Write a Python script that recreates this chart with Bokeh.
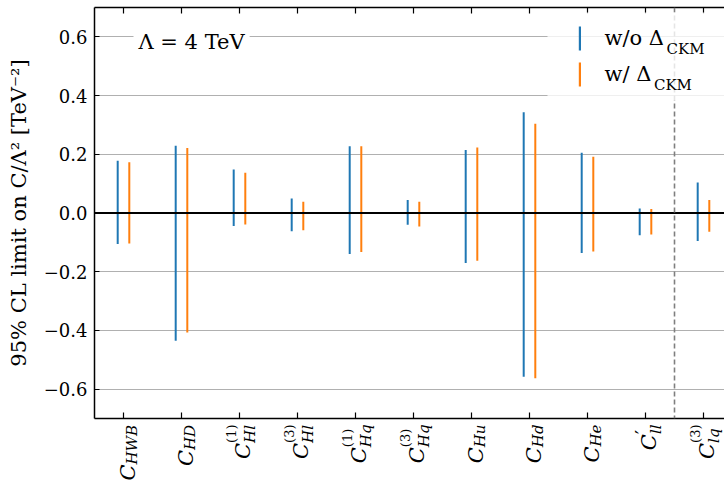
import math
import numpy as np
from bokeh.plotting import figure
from bokeh.layouts import column
from bokeh.core.properties import value
from bokeh.models import (Range1d, LinearAxis, FixedTicker, Span, Label, Legend,
                          LegendItem, CustomJSTickFormatter, ColumnDataSource,
                          BoxAnnotation)
from bokeh.embed import file_html
from bokeh.resources import INLINE

# ---------------- data ----------------
coef_base = ["C"] * 11
coef_sub = ["HWB", "HD", "Hl", "Hl", "Hq", "Hq", "Hu", "Hd", "He", "ll", "lq"]
coef_sup = ["", "", "(1)", "(3)", "(1)", "(3)", "", "", "", "\u2032", "(3)"]

wo_ckm_hi = [0.178, 0.229, 0.148, 0.049, 0.227, 0.044, 0.215, 0.343, 0.205, 0.015, 0.104]
wo_ckm_lo = [-0.106, -0.435, -0.044, -0.062, -0.140, -0.040, -0.170, -0.558, -0.136, -0.076, -0.095]
w_ckm_hi = [0.173, 0.221, 0.137, 0.038, 0.227, 0.038, 0.223, 0.304, 0.192, 0.014, 0.044]
w_ckm_lo = [-0.104, -0.407, -0.039, -0.059, -0.133, -0.046, -0.163, -0.563, -0.131, -0.073, -0.064]

series_labels = ["w/o \u0394", "w/ \u0394"]
series_sub = "CKM"
scale_text = "\u039b = 4 TeV"
y_ticks = [-0.6, -0.4, -0.2, 0.0, 0.2, 0.4, 0.6]
y_label = "95% CL limit on C/\u039b\u00b2 [TeV\u207b\u00b2]"
n_first_group = 10   # separator drawn after the first 10 operators

# ---------------- layout ----------------
W = 724
HM = 420            # main figure height
HL = 481 - HM       # label strip height
FL, FT, FB = 94, 7, 2
frame_w = W - FL
frame_h = HM - FT - FB
X0 = -0.5
PX_X = 58.0
X1 = X0 + frame_w / PX_X
Y0, Y1 = -0.7, 0.7
PY = frame_h / (Y1 - Y0)

def data_x(px):
    return X0 + (px - FL) / PX_X

def data_y(py):
    return Y1 - (py - FT) / PY

FONT = "DejaVu Serif"
BLUE = "#1f77b4"
ORANGE = "#ff7f0e"

x_range = Range1d(X0, X1)
p = figure(width=W, height=HM, output_backend="svg", toolbar_location=None,
           x_range=x_range, y_range=Range1d(Y0, Y1),
           min_border_left=FL, min_border_right=0, min_border_top=FT,
           min_border_bottom=FB)
p.outline_line_color = None
p.xgrid.visible = False
p.ygrid.grid_line_color = "#b0b0b0"
p.ygrid.grid_line_width = 1
p.ygrid.ticker = FixedTicker(ticks=y_ticks)

# y axis
ya = p.yaxis[0]
ya.ticker = FixedTicker(ticks=y_ticks)
ya.formatter = CustomJSTickFormatter(code="return tick.toFixed(1).replace('-', '\\u2212');")
ya.major_tick_in = 5
ya.major_tick_out = 0
ya.minor_tick_line_color = None
ya.axis_line_width = 1.5
ya.major_tick_line_width = 1.2
ya.major_label_text_font = FONT
ya.major_label_text_font_size = "18px"
ya.major_label_text_color = "black"
ya.major_label_standoff = 7
ya.axis_label = y_label
ya.axis_label_text_font = FONT
ya.axis_label_text_font_size = "21px"
ya.axis_label_text_font_style = "normal"
ya.axis_label_text_color = "black"
ya.axis_label_standoff = 10

n = len(coef_sub)

def tick_only(ax):
    ax.ticker = FixedTicker(ticks=list(range(n)))
    ax.major_label_text_color = None
    ax.major_label_text_font_size = "1px"
    ax.major_label_standoff = 0
    ax.major_tick_in = 6
    ax.major_tick_out = 0
    ax.minor_tick_line_color = None
    ax.axis_line_width = 1.5
    ax.major_tick_line_width = 1.2

tick_only(p.xaxis[0])
ta = LinearAxis()
tick_only(ta)
p.add_layout(ta, "above")

# error bars
xi = np.arange(n)
src = ColumnDataSource(dict(x_wo=xi - 0.1, x_w=xi + 0.1,
                            wo_lo=wo_ckm_lo, wo_hi=wo_ckm_hi,
                            w_lo=w_ckm_lo, w_hi=w_ckm_hi))
bar_w = 2.0 / PX_X
r_wo = p.vbar(x="x_wo", bottom="wo_lo", top="wo_hi", width=bar_w, source=src,
              fill_color=BLUE, line_color=None)
r_w = p.vbar(x="x_w", bottom="w_lo", top="w_hi", width=bar_w, source=src,
             fill_color=ORANGE, line_color=None)

# zero line and group separator
p.add_layout(Span(location=0, dimension="width", line_color="black", line_width=2))
p.add_layout(Span(location=n_first_group - 0.5, dimension="height", line_color="#7f7f7f",
                  line_width=1.6, line_dash="5 3"))

# Lambda text
p.add_layout(Label(x=data_x(133), y=data_y(41), text=scale_text, text_font=FONT,
                   text_font_size="21px", text_color="black", text_align="left",
                   text_baseline="alphabetic", background_fill_color="white",
                   padding=5))

# legend frame (translucent white, no edge)
p.add_layout(BoxAnnotation(left=data_x(547), right=X1 + 1, top=data_y(12),
                           bottom=data_y(100), fill_color="white", fill_alpha=0.8,
                           line_color=None))

# legend
leg_left, leg_top = 567.5, 13
pad, gh, sp = 10, 30, 6
leg_h = 2 * pad + 2 * gh + sp
LEG_SHIFT = 10
legend = Legend(items=[LegendItem(label=series_labels[0], renderers=[r_wo]),
                       LegendItem(label=series_labels[1], renderers=[r_w])],
                location=(leg_left - FL + LEG_SHIFT, (FT + frame_h) - (leg_top + leg_h) + LEG_SHIFT),
                glyph_width=3, glyph_height=gh, label_height=gh,
                spacing=sp, padding=pad, label_standoff=24,
                label_text_font=FONT, label_text_font_size="21px",
                label_text_color="black",
                border_line_color=None, background_fill_alpha=0)
p.add_layout(legend)

# subscripts of the legend labels
EM = {"w": 0.856, "/": 0.337, "o": 0.602, " ": 0.318, "\u0394": 0.770}
text_start = leg_left + pad + 3 + 24
row_c = [leg_top + pad + gh / 2, leg_top + pad + gh + sp + gh / 2]
for lab, cy in zip(series_labels, row_c):
    wpx = sum(EM.get(c, 0.6) for c in lab) * 21
    p.add_layout(Label(x=data_x(text_start + wpx + 1), y=data_y(cy + 10), text=series_sub,
                       text_font=FONT, text_font_size="15px", text_color="black",
                       text_align="left", text_baseline="alphabetic", level="overlay"))

# ---------------- category labels strip ----------------
q = figure(width=W, height=HL, output_backend="svg", toolbar_location=None,
           x_range=x_range, y_range=Range1d(0, HL),
           x_axis_location=None, y_axis_location=None,
           min_border_left=FL, min_border_right=0, min_border_top=0, min_border_bottom=0)
q.outline_line_color = None
q.grid.visible = False

IT = {"H": 0.872, "W": 1.034, "B": 0.762, "D": 0.830, "l": 0.320, "q": 0.640,
      "u": 0.644, "d": 0.640, "e": 0.592}
UP = {"(": 0.390, ")": 0.390, "1": 0.636, "3": 0.636, "\u2032": 0.30}
MAIN_FS, SUB_FS = 21, 15
top_off = (FT + frame_h) + 5 - HM   # label top below the axis, in strip pixels

main_x, main_y, sub_x, sub_y = [], [], [], []
sup_x, sup_y, sup_t, sup_fs = [], [], [], []
for i, (sub, sup) in enumerate(zip(coef_sub, coef_sup)):
    fs_sup = 18 if sup == "\u2032" else 13
    w_sub = sum(IT.get(c, 0.6) for c in sub) * SUB_FS
    w_sup = sum(UP.get(c, 0.5) for c in sup) * fs_sup
    ay = HL - (top_off + max(w_sub, w_sup) + 1)
    c_dx = 3 if sup else 4
    main_x.append(i + c_dx / PX_X); main_y.append(ay)
    sub_x.append(i + (c_dx + (7 if sup else 4)) / PX_X); sub_y.append(ay)
    if sup:
        sup_x.append(i + (c_dx - (6 if sup == "\u2032" else 11)) / PX_X)
        sup_y.append(ay); sup_t.append(sup); sup_fs.append(f"{fs_sup}px")

common = dict(angle=math.pi / 2, text_font=value(FONT), text_color="black",
              text_baseline="alphabetic")
q.text(x=main_x, y=main_y, text=coef_base, text_align="right",
       text_font_style="italic", text_font_size=value(f"{MAIN_FS}px"), **common)
q.text(x=sub_x, y=sub_y, text=coef_sub, text_align="left",
       text_font_style="italic", text_font_size=value(f"{SUB_FS}px"), **common)
sup_src = ColumnDataSource(dict(x=sup_x, y=sup_y, t=sup_t, fs=sup_fs))
q.text(x="x", y="y", text="t", text_align="left", source=sup_src,
       text_font_style="normal", text_font_size="fs", **common)

layout = column(p, q, spacing=0)
open("out.html", "w").write(file_html(layout, INLINE))
